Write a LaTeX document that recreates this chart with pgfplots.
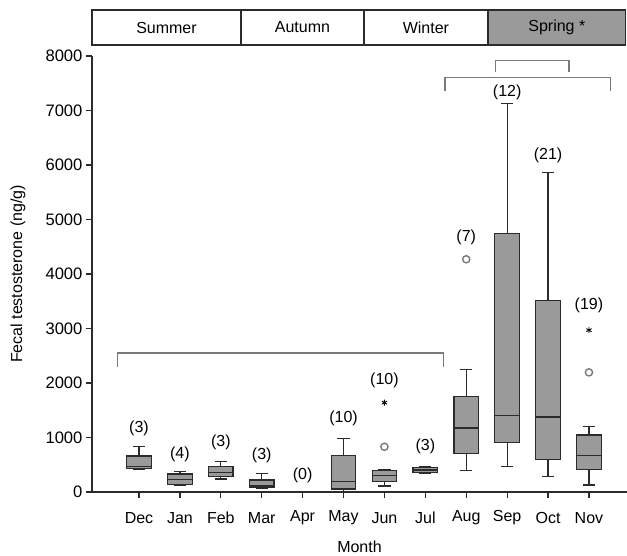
\documentclass[border=0pt]{standalone}
\usepackage{fontspec}
\setmainfont{Liberation Sans}
\usepackage{pgfplots}
\pgfplotsset{compat=1.18}
\usepgfplotslibrary{statistics}

\definecolor{boxgray}{HTML}{9A9A9A}
\definecolor{brgray}{HTML}{7A7A7A}
\definecolor{axisdark}{HTML}{2B2B2B}

\newcommand{\lbl}{\fontsize{16}{19}\selectfont}
\newcommand{\ylbl}{\fontsize{16.6}{19}\selectfont}

\begin{document}
\begin{tikzpicture}
\begin{axis}[
  name=ax,
  scale only axis,
  width=535pt, height=436pt,
  xmin=-1.149, xmax=11.93,
  ymin=0, ymax=8000,
  axis x line=bottom, axis y line=left,
  axis line style={-, line width=1.3pt, axisdark},
  xtick={0,...,11},
  xticklabels={Dec,Jan,Feb,Mar,Apr,May,Jun,Jul,Aug,Sep,Oct,Nov},
  ytick={0,1000,...,8000},
  tick align=outside,
  major tick length=6pt,
  tick style={line width=1.3pt, axisdark},
  xticklabel style={font=\lbl, anchor=center, yshift=-20pt},
  yticklabel style={font=\ylbl},
  label style={font=\lbl},
  /pgf/number format/assume math mode=true,
  /pgf/number format/1000 sep={},
  xlabel={Month},
  ylabel={Fecal testosterone (ng/g)},
  xlabel style={at={([yshift=-55pt]rel axis cs:0.5,0)}, anchor=center},
  ylabel style={at={([xshift=-74pt]rel axis cs:0,0.5)}, anchor=center},
  clip=false,
  boxplot/draw direction=y,
]

% monthly boxplots: whiskers, quartiles and median
\addplot[boxplot prepared={draw position=0, lower whisker=420, lower quartile=430,
  median=470, upper quartile=660, upper whisker=830, box extend=0.6, whisker extend=0.3},
  fill=boxgray, draw=axisdark, line width=1.2pt] coordinates {};
\addplot[boxplot prepared={draw position=1, lower whisker=130, lower quartile=140,
  median=225, upper quartile=330, upper whisker=370, box extend=0.6, whisker extend=0.3},
  fill=boxgray, draw=axisdark, line width=1.2pt] coordinates {};
\addplot[boxplot prepared={draw position=2, lower whisker=240, lower quartile=280,
  median=365, upper quartile=465, upper whisker=555, box extend=0.6, whisker extend=0.3},
  fill=boxgray, draw=axisdark, line width=1.2pt] coordinates {};
\addplot[boxplot prepared={draw position=3, lower whisker=60, lower quartile=80,
  median=110, upper quartile=220, upper whisker=340, box extend=0.6, whisker extend=0.3},
  fill=boxgray, draw=axisdark, line width=1.2pt] coordinates {};
\addplot[boxplot prepared={draw position=5, lower whisker=10, lower quartile=55,
  median=200, upper quartile=665, upper whisker=985, box extend=0.6, whisker extend=0.3},
  fill=boxgray, draw=axisdark, line width=1.2pt] coordinates {};
\addplot[boxplot prepared={draw position=6, lower whisker=110, lower quartile=200,
  median=300, upper quartile=400, upper whisker=410, box extend=0.6, whisker extend=0.3},
  fill=boxgray, draw=axisdark, line width=1.2pt] coordinates {};
\addplot[boxplot prepared={draw position=7, lower whisker=340, lower quartile=355,
  median=405, upper quartile=445, upper whisker=465, box extend=0.6, whisker extend=0.3},
  fill=boxgray, draw=axisdark, line width=1.2pt] coordinates {};
\addplot[boxplot prepared={draw position=8, lower whisker=390, lower quartile=700,
  median=1175, upper quartile=1745, upper whisker=2250, box extend=0.6, whisker extend=0.3},
  fill=boxgray, draw=axisdark, line width=1.2pt] coordinates {};
\addplot[boxplot prepared={draw position=9, lower whisker=475, lower quartile=910,
  median=1410, upper quartile=4745, upper whisker=7130, box extend=0.6, whisker extend=0.3},
  fill=boxgray, draw=axisdark, line width=1.2pt] coordinates {};
\addplot[boxplot prepared={draw position=10, lower whisker=280, lower quartile=600,
  median=1375, upper quartile=3520, upper whisker=5865, box extend=0.6, whisker extend=0.3},
  fill=boxgray, draw=axisdark, line width=1.2pt] coordinates {};
\addplot[boxplot prepared={draw position=11, lower whisker=130, lower quartile=415,
  median=670, upper quartile=1045, upper whisker=1200, box extend=0.6, whisker extend=0.3},
  fill=boxgray, draw=axisdark, line width=1.2pt] coordinates {};

% outliers (circles) and extreme values (stars)
\addplot[only marks, mark=o, mark size=3.6pt, brgray, line width=1.4pt]
  coordinates {(6,830) (8,4270) (11,2195)};
\addplot[only marks, mark=asterisk, mark size=3pt, black, line width=0.9pt]
  coordinates {(6,1640) (11,2970)};

% sample sizes per month
\node[font=\lbl] at (axis cs:0,1174) {(3)};
\node[font=\lbl] at (axis cs:1,697) {(4)};
\node[font=\lbl] at (axis cs:2,917) {(3)};
\node[font=\lbl] at (axis cs:3,679) {(3)};
\node[font=\lbl] at (axis cs:4,312) {(0)};
\node[font=\lbl] at (axis cs:5,1358) {(10)};
\node[font=\lbl] at (axis cs:6,2055) {(10)};
\node[font=\lbl] at (axis cs:7,844) {(3)};
\node[font=\lbl] at (axis cs:8,4673) {(7)};
\node[font=\lbl] at (axis cs:9,7340) {(12)};
\node[font=\lbl] at (axis cs:10,6183) {(21)};
\node[font=\lbl] at (axis cs:11,3431) {(19)};

% comparison brackets
\draw[brgray, line width=1.3pt] (axis cs:-0.52,2290) -- (axis cs:-0.52,2550)
  -- (axis cs:7.44,2550) -- (axis cs:7.44,2290);
\draw[brgray, line width=1.3pt] (axis cs:7.48,7360) -- (axis cs:7.48,7610)
  -- (axis cs:11.53,7610) -- (axis cs:11.53,7360);
\draw[brgray, line width=1.3pt] (axis cs:8.72,7700) -- (axis cs:8.72,7915)
  -- (axis cs:10.51,7915) -- (axis cs:10.51,7700);

% season strip
\draw[draw=axisdark, line width=1.2pt, fill=white]
  (axis cs:-1.149,8202) rectangle (axis cs:2.493,8844);
\draw[draw=axisdark, line width=1.2pt, fill=white]
  (axis cs:2.493,8202) rectangle (axis cs:5.50,8844);
\draw[draw=axisdark, line width=1.2pt, fill=white]
  (axis cs:5.50,8202) rectangle (axis cs:8.53,8844);
\draw[draw=axisdark, line width=1.2pt, fill=boxgray]
  (axis cs:8.53,8202) rectangle (axis cs:11.90,8844);
\node[font=\lbl] at (axis cs:0.672,8523) {Summer};
\node[font=\lbl] at (axis cs:3.997,8523) {Autumn};
\node[font=\lbl] at (axis cs:7.015,8523) {Winter};
\node[font=\lbl] at (axis cs:10.215,8523) {Spring *};
\end{axis}
\pgfresetboundingbox
\path ([shift={(-92pt,-63pt)}]ax.south west) rectangle ++(627pt,555pt);
\end{tikzpicture}
\end{document}
